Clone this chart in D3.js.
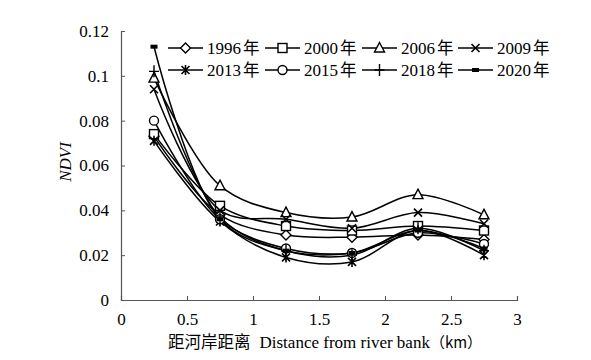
<!DOCTYPE html>
<html><head><meta charset="utf-8">
<script src="https://cdn.jsdelivr.net/npm/d3@7"></script>
<style>
body{margin:0;background:#fff;}
svg text{font-family:"Liberation Serif","Times New Roman",serif;fill:#000;}
.cjk{font-family:"Noto Sans CJK SC",sans-serif;}
</style></head>
<body><svg id="c" width="591" height="360"></svg>
<script>
const distances = [0.25, 0.75, 1.25, 1.75, 2.25, 2.75];
const years = ["1996", "2000", "2006", "2009", "2013", "2015", "2018", "2020"];
const v1996 = [0.073, 0.038, 0.029, 0.028, 0.029, 0.027];
const v2000 = [0.074, 0.042, 0.033, 0.031, 0.033, 0.031];
const v2006 = [0.099, 0.051, 0.039, 0.037, 0.047, 0.038];
const v2009 = [0.094, 0.040, 0.036, 0.032, 0.039, 0.034];
const v2013 = [0.071, 0.035, 0.019, 0.017, 0.031, 0.020];
const v2015 = [0.080, 0.036, 0.023, 0.021, 0.030, 0.025];
const v2018 = [0.102, 0.037, 0.022, 0.020, 0.032, 0.022];
const v2020 = [0.113, 0.036, 0.022, 0.021, 0.031, 0.023];
const seriesValues = [v1996, v2000, v2006, v2009, v2013, v2015, v2018, v2020];
const markers = ["diamond", "square", "triangle", "x", "asterisk", "circle", "plus", "dash"];
const xTicks = [0, 0.5, 1, 1.5, 2, 2.5, 3];
const yTicks = [0, 0.02, 0.04, 0.06, 0.08, 0.1, 0.12];
const xTitle = "距河岸距离";
const xTitleEn = "Distance from river bank";
const xTitleUnit = "（km）";

const serif = '"Liberation Serif","Times New Roman",serif';
const svg = d3.select("#c");
const x = d3.scaleLinear().domain([0, 3]).range([121, 517]);
const y = d3.scaleLinear().domain([0, 0.12]).range([300, 31]);

// axes
const axisCol = "#555";
const gx = svg.append("g").attr("transform", "translate(0,300)")
  .call(d3.axisBottom(x).tickValues(xTicks).tickSize(-4).tickPadding(13).tickFormat(d => String(d)));
const gy = svg.append("g").attr("transform", "translate(121,0)")
  .call(d3.axisLeft(y).tickValues(yTicks).tickSize(-4).tickPadding(12).tickFormat(d => String(d)));
[gx, gy].forEach(g => {
  g.attr("font-family", serif);
  g.select(".domain").attr("stroke", axisCol).attr("stroke-width", 1.2);
  g.selectAll(".tick line").attr("stroke", axisCol);
  g.selectAll("text").attr("font-size", 17).style("font-size", "17px").attr("fill", "#000").style("font-family", serif);
});
gx.selectAll("text").attr("dy", "0.71em");

// titles
const xt = svg.append("text").attr("x", 168).attr("y", 348).style("font-size", "17px").style("font-family", serif);
xt.append("tspan").attr("class", "cjk").style("font-size", "16.5px").text(xTitle);
xt.append("tspan").attr("dx", 9).style("font-family", serif).text(xTitleEn);
xt.append("tspan").attr("class", "cjk").style("font-size", "15px").text(xTitleUnit);
svg.append("text").attr("transform", "translate(71,162) rotate(-90)").attr("text-anchor", "middle")
  .style("font-size", "17px").style("font-style", "italic").style("font-family", serif).text("NDVI");

function drawMarker(g, type, cx, cy) {
  const s = g.append("g").attr("transform", `translate(${cx},${cy})`);
  const st = {stroke: "#000", "stroke-width": 1.4, fill: "#fff"};
  const ap = (el) => { Object.entries(st).forEach(([k, v]) => el.attr(k, v)); return el; };
  if (type === "diamond") ap(s.append("path").attr("d", "M0,-5L5,0L0,5L-5,0Z"));
  else if (type === "square") ap(s.append("rect").attr("x", -4.5).attr("y", -4.5).attr("width", 9).attr("height", 9));
  else if (type === "triangle") ap(s.append("path").attr("d", "M0,-5.5L5,4L-5,4Z"));
  else if (type === "circle") ap(s.append("circle").attr("r", 4.5));
  else if (type === "x") s.append("path").attr("d", "M-4,-4L4,4M-4,4L4,-4").attr("stroke", "#000").attr("stroke-width", 1.6);
  else if (type === "asterisk") s.append("path").attr("d", "M-4,-4L4,4M-4,4L4,-4M0,-5L0,5").attr("stroke", "#000").attr("stroke-width", 1.6);
  else if (type === "plus") s.append("path").attr("d", "M-5,0L5,0M0,-6L0,6").attr("stroke", "#000").attr("stroke-width", 1.4);
  else if (type === "dash") s.append("rect").attr("x", -3.5).attr("y", -2).attr("width", 7).attr("height", 4).attr("fill", "#000");
}

const line = d3.line().x((d, i) => x(distances[i])).y(d => y(d)).curve(d3.curveCatmullRom.alpha(0.5));
const plot = svg.append("g");
seriesValues.forEach((vals) => {
  plot.append("path").attr("d", line(vals)).attr("fill", "none").attr("stroke", "#000").attr("stroke-width", 1.5);
});
seriesValues.forEach((vals, si) => {
  vals.forEach((v, i) => drawMarker(plot, markers[si], x(distances[i]), y(v)));
});

// legend
const lg = svg.append("g");
const colX = [168, 265, 362, 458];
const rowY = [48, 70];
years.forEach((yr, i) => {
  const cx = colX[i % 4], cy = rowY[Math.floor(i / 4)];
  lg.append("line").attr("x1", cx).attr("x2", cx + 35).attr("y1", cy).attr("y2", cy).attr("stroke", "#000").attr("stroke-width", 1.5);
  drawMarker(lg, markers[i], cx + 17.5, cy);
  const t = lg.append("text").attr("x", cx + 39).attr("y", cy + 6).style("font-size", "17px").style("font-family", serif);
  t.append("tspan").text(yr);
  t.append("tspan").attr("class", "cjk").attr("dx", 2).style("font-size", "16.5px").text("年");
});
</script></body></html>
